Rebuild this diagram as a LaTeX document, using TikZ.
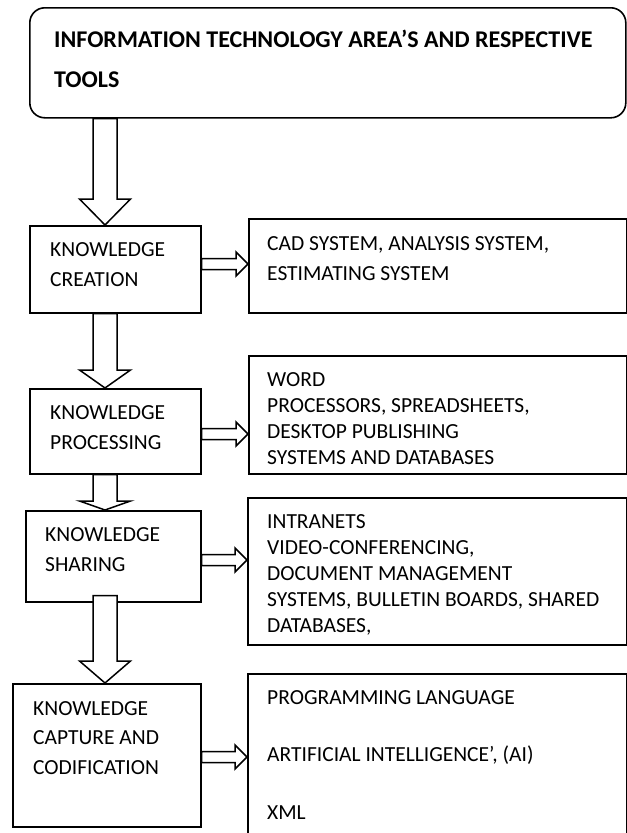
\documentclass[tikz,border=0pt]{standalone}
\usepackage{fontspec}
\setmainfont{Carlito}
\usetikzlibrary{calc}
\tikzset{
  box/.style={draw=black, line width=1.6bp, fill=white, inner sep=0pt, anchor=north west},
  barrow/.style={draw=black, line width=1.5bp, fill=white, line join=miter},
  txt/.style={inner sep=0pt, anchor=base west, align=left, font=\fontsize{21.5bp}{30bp}\selectfont},
  ttl/.style={inner sep=0pt, anchor=base west, align=left, font=\bfseries\fontsize{24bp}{40bp}\selectfont}
}
% down block arrow from node #1 to node #2, head length #3, shaft starts #4 above #1.south
\newcommand\dnarrow[4]{%
  \draw[barrow] ($(#1.south -| ax)+(-12,-#4)$) -- ($(#2.north -| ax)+(-12,-#3)$) -- ++(-13.5,0)
    -- (#2.north -| ax) -- ($(#2.north -| ax)+(25.5,-#3)$) -- ++(-13.5,0)
    -- ($(#1.south -| ax)+(12,-#4)$) -- cycle;}
% right block arrow from node #1 to node #2 at level coordinate #3
\newcommand\rtarrow[3]{%
  \draw[barrow] ($(#1.east |- #3)+(0,-5.5)$) -- ($(#2.west |- #3)+(-12,-5.5)$) -- ++(0,-6.5)
    -- (#2.west |- #3) -- ($(#2.west |- #3)+(-12,12)$) -- ++(0,-6.5)
    -- ($(#1.east |- #3)+(0,5.5)$) -- cycle;}
\begin{document}
\begin{tikzpicture}[x=1bp,y=-1bp]
\clip (0,0) rectangle (627,833);
\fill[white] (0,0) rectangle (627,833);
\coordinate (ax) at (105,0);
\coordinate (l1) at (0,264);
\coordinate (l2) at (0,434);
\coordinate (l3) at (0,560);
\coordinate (l4) at (0,757);

% boxes
\node[box, rounded corners=15bp, minimum width=596bp, minimum height=110bp] (top) at (29,7) {};
\node[box, minimum width=171bp, minimum height=87bp] (kc) at (29,225) {};
\node[box, minimum width=378bp, minimum height=94bp] (cad) at (248,218) {};
\node[box, minimum width=171bp, minimum height=85bp] (kp) at (29,388) {};
\node[box, minimum width=378bp, minimum height=118bp] (word) at (248,355) {};
\node[box, minimum width=175bp, minimum height=91bp] (ks) at (25,510) {};
\node[box, minimum width=379bp, minimum height=147bp] (intr) at (247,497) {};
\node[box, minimum width=188bp, minimum height=143bp] (kcc) at (12,683) {};
\node[box, minimum width=379bp, minimum height=180bp] (tool) at (247,673) {};

% arrows
\dnarrow{top}{kc}{26}{0}
\dnarrow{kc}{kp}{18}{0}
\dnarrow{kp}{ks}{9}{0}
\dnarrow{ks}{kcc}{22}{7}
\rtarrow{kc}{cad}{l1}
\rtarrow{kp}{word}{l2}
\rtarrow{ks}{intr}{l3}
\rtarrow{kcc}{tool}{l4}

% texts (anchor = baseline of the last line)
\node[ttl] (topt) at (54,87) {INFORMATION TECHNOLOGY AREA’S AND RESPECTIVE\\TOOLS};
\node[txt] (kct) at (50,286) {KNOWLEDGE\\CREATION};
\node[txt] (cadt) at (267,280) {CAD SYSTEM, ANALYSIS SYSTEM,\\ESTIMATING SYSTEM};
\node[txt] (kpt) at (50,449) {KNOWLEDGE\\PROCESSING};
\node[txt, font=\fontsize{21.5bp}{25.7bp}\selectfont] (wordt) at (267,464) {WORD\\PROCESSORS, SPREADSHEETS,\\DESKTOP PUBLISHING\\SYSTEMS AND DATABASES};
\node[txt] (kst) at (45,571) {KNOWLEDGE\\SHARING};
\node[txt, font=\fontsize{21.5bp}{26bp}\selectfont] (intrt) at (267,632) {INTRANETS\\VIDEO-CONFERENCING,\\DOCUMENT MANAGEMENT\\SYSTEMS, BULLETIN BOARDS, SHARED\\DATABASES,};
\node[txt, font=\fontsize{21.5bp}{29.5bp}\selectfont] (kcct) at (33,774) {KNOWLEDGE\\CAPTURE AND\\CODIFICATION};
\node[txt, font=\fontsize{21.5bp}{57.5bp}\selectfont] (toolt) at (267,819) {PROGRAMMING LANGUAGE\\ARTIFICIAL INTELLIGENCE’, (AI)\\XML};
\end{tikzpicture}
\end{document}
